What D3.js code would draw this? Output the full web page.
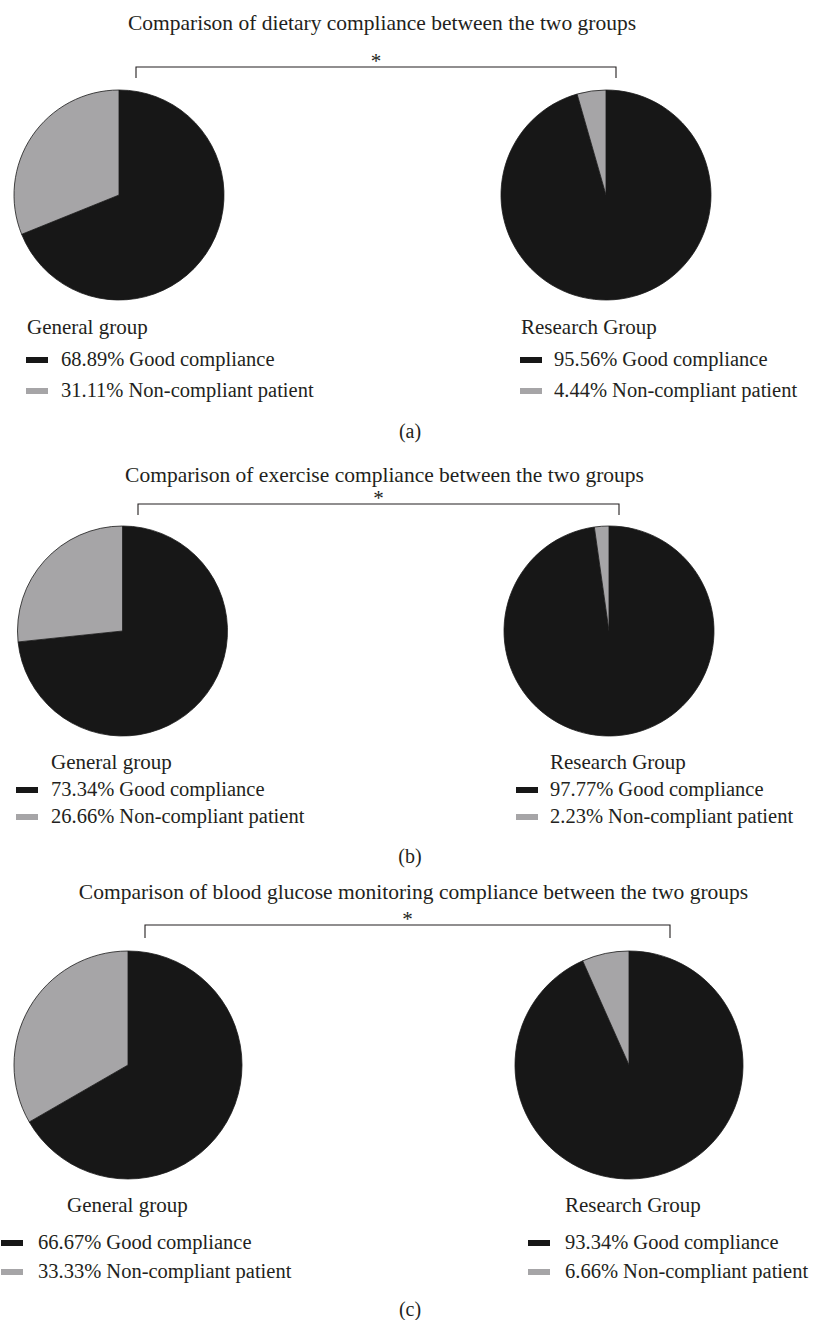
<!DOCTYPE html>
<html>
<head>
<meta charset="utf-8">
<script src="https://cdn.jsdelivr.net/npm/d3@7/dist/d3.min.js"></script>
<style>
  html, body { margin: 0; padding: 0; background: #ffffff; }
  svg text { font-family: "Liberation Serif", "Times New Roman", serif; fill: #231f20; }
</style>
</head>
<body>
<svg id="chart" width="821" height="1320"></svg>
<script>
// ---------------- data ----------------
const panelLabels = ["(a)", "(b)", "(c)"];
const titles = [
  "Comparison of dietary compliance between the two groups",
  "Comparison of exercise compliance between the two groups",
  "Comparison of blood glucose monitoring compliance between the two groups"
];
const groups = ["General group", "Research Group"];
const categories = ["Good compliance", "Non-compliant patient"];
const generalGood = [68.89, 73.34, 66.67];
const generalNon = [31.11, 26.66, 33.33];
const researchGood = [95.56, 97.77, 93.34];
const researchNon = [4.44, 2.23, 6.66];
const significance = ["*", "*", "*"];

// ---------------- layout (positions only) ----------------
const layout = [
  { titleY: 30, bracket: [136, 616, 67, 78], pieCx: [119, 606], pieCy: 195, r: 105,
    headX: [27, 521], headY: 327, swX: [26, 520], txX: [61, 554], rows: [360, 391], labelY: 432 },
  { titleY: 482, bracket: [138, 619, 504, 515], pieCx: [122.5, 609], pieCy: 631, r: 105,
    headX: [51, 550], headY: 762, swX: [16, 516], txX: [51, 550], rows: [790, 817], labelY: 857 },
  { titleY: 899, bracket: [145, 670, 925, 938], pieCx: [128, 629], pieCy: 1065, r: 114,
    headX: [67, 565], headY: 1205, swX: [1, 528], txX: [38, 565], rows: [1243, 1272], labelY: 1310 }
];

const color = d3.scaleOrdinal().domain(categories).range(["#171717", "#a6a5a7"]);
const pie = d3.pie().sort(null).value(d => d.value);
const svg = d3.select("#chart");
const fmt = v => v.toFixed(2) + "%";

layout.forEach((L, i) => {
  const g = svg.append("g");
  g.append("text").attr("x", (L.bracket[0] + L.bracket[1]) / 2 + 6).attr("y", L.titleY)
    .attr("text-anchor", "middle").attr("font-size", 21.5).text(titles[i]);
  const [bx1, bx2, by, byEnd] = L.bracket;
  g.append("path")
    .attr("d", d3.line()([[bx1, byEnd], [bx1, by], [bx2, by], [bx2, byEnd]]))
    .attr("fill", "none").attr("stroke", "#231f20").attr("stroke-width", 1.1);
  g.append("text").attr("x", (bx1 + bx2) / 2).attr("y", by + 1)
    .attr("text-anchor", "middle").attr("font-size", 21).text(significance[i]);

  const groupData = [
    [generalGood[i], generalNon[i]],
    [researchGood[i], researchNon[i]]
  ];
  groupData.forEach((vals, j) => {
    const data = categories.map((c, k) => ({ cat: c, value: vals[k] }));
    const arc = d3.arc().innerRadius(0).outerRadius(L.r);
    const pg = g.append("g").attr("transform", `translate(${L.pieCx[j]},${L.pieCy})`);
    pg.selectAll("path").data(pie(data)).join("path")
      .attr("d", arc).attr("fill", d => color(d.data.cat))
      .attr("stroke", "#1a1a1a").attr("stroke-width", 0.8);
    g.append("text").attr("x", L.headX[j]).attr("y", L.headY + 7)
      .attr("font-size", 21).text(groups[j]);
    data.forEach((d, k) => {
      g.append("rect").attr("x", L.swX[j]).attr("y", L.rows[k] - 3)
        .attr("width", 22).attr("height", 6).attr("fill", color(d.cat));
      g.append("text").attr("x", L.txX[j]).attr("y", L.rows[k] + 6)
        .attr("font-size", 20.5).text(fmt(d.value) + " " + d.cat);
    });
  });
  g.append("text").attr("x", 410).attr("y", L.labelY + 6)
    .attr("text-anchor", "middle").attr("font-size", 20).text(panelLabels[i]);
});
</script>
</body>
</html>
